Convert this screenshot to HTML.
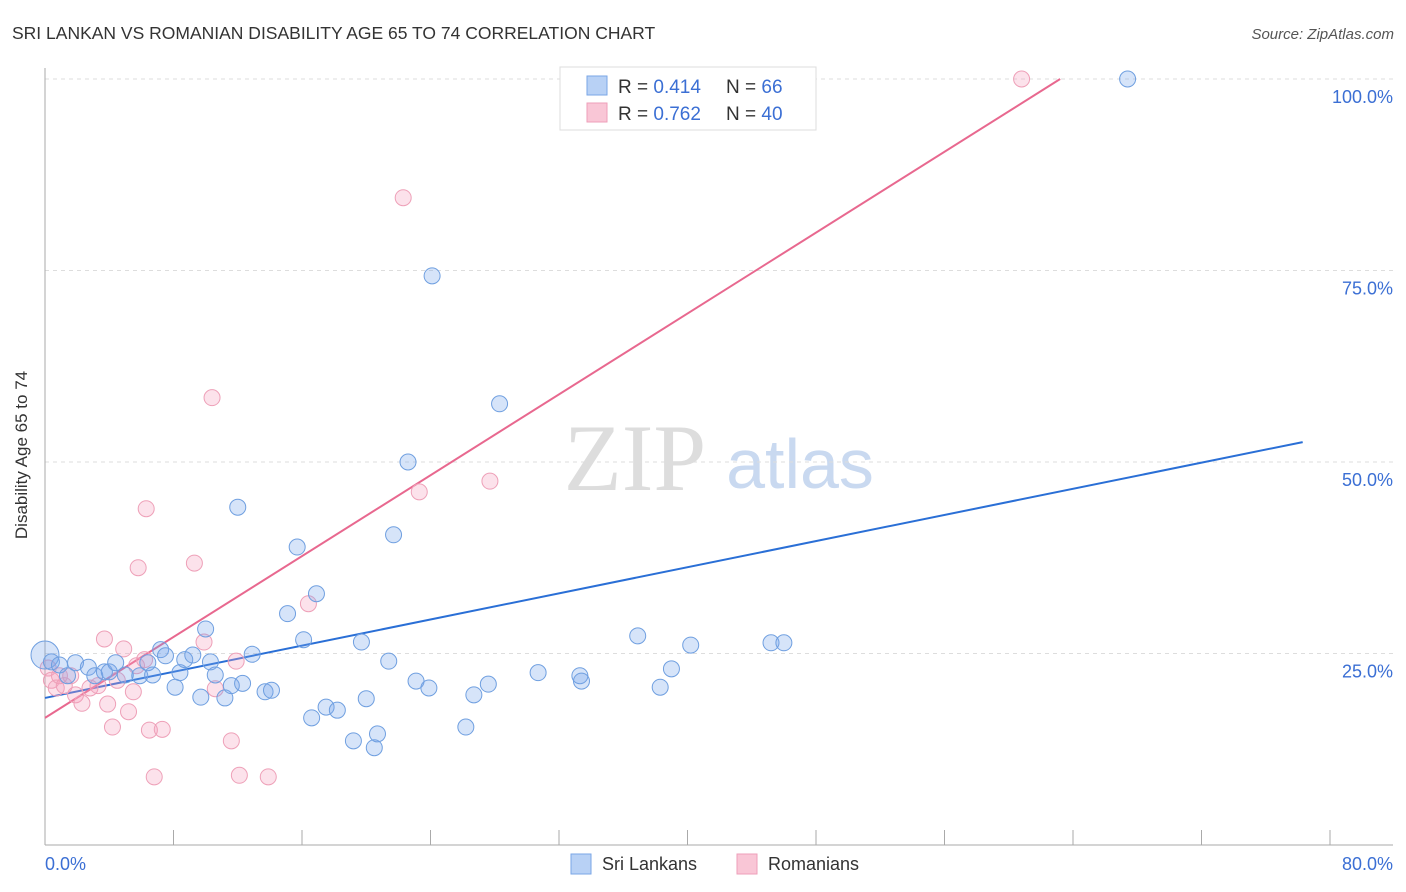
<!DOCTYPE html>
<html><head><meta charset="utf-8"><style>
body{margin:0;background:#fff;font-family:"Liberation Sans",sans-serif;}
svg{display:block}
</style></head><body>
<svg id="chart" width="1406" height="892" xmlns="http://www.w3.org/2000/svg">
<text x="12" y="39" font-size="17.5" fill="#333">SRI LANKAN VS ROMANIAN DISABILITY AGE 65 TO 74 CORRELATION CHART</text>
<text x="1394" y="39" font-size="15" fill="#555" font-style="italic" text-anchor="end">Source: ZipAtlas.com</text>
<g>
<text x="635" y="490" font-size="95" fill="#ddd" font-family="Liberation Serif,serif" text-anchor="middle">ZIP</text>
<text x="800" y="488" font-size="70" fill="#c9d9f0" text-anchor="middle">atlas</text>
</g>
<g id="grid"></g>
<g id="axes"></g>
<g id="trends"></g>
<g id="points"></g>
<text x="27" y="455" font-size="17" fill="#333" text-anchor="middle" transform="rotate(-90 27 455)">Disability Age 65 to 74</text>
<g>
<rect x="560" y="67" width="256" height="63" fill="#fff" stroke="#ddd"/>
<rect x="587" y="76" width="20" height="19" fill="#b8d1f5" stroke="#7aa6e6"/>
<rect x="587" y="103" width="20" height="19" fill="#f9c6d6" stroke="#ee9fb9"/>
<text x="618" y="93" font-size="19" fill="#333">R = <tspan fill="#3b6fd4">0.414</tspan></text>
<text x="726" y="93" font-size="19" fill="#333">N = <tspan fill="#3b6fd4"> 66</tspan></text>
<text x="618" y="120" font-size="19" fill="#333">R = <tspan fill="#3b6fd4">0.762</tspan></text>
<text x="726" y="120" font-size="19" fill="#333">N = <tspan fill="#3b6fd4">40</tspan></text>
</g>
<g>
<rect x="571" y="854" width="20" height="20" fill="#b8d1f5" stroke="#7aa6e6"/>
<text x="602" y="870" font-size="18" fill="#333">Sri Lankans</text>
<rect x="737" y="854" width="20" height="20" fill="#f9c6d6" stroke="#ee9fb9"/>
<text x="768" y="870" font-size="18" fill="#333">Romanians</text>
</g>
</svg>
<script>
const blueX=[0.0,0.4,0.9,1.4,1.9,2.7,3.1,3.7,4.0,4.4,5.0,5.9,6.4,6.7,7.2,7.5,8.1,8.4,8.7,9.2,9.7,10.0,10.3,10.6,11.2,11.6,12.0,12.3,12.9,13.7,14.1,15.1,15.7,16.1,16.6,16.9,17.5,18.2,19.2,19.7,20.0,20.5,20.7,21.4,21.7,22.6,23.1,23.9,24.1,26.2,26.7,27.6,28.3,30.7,33.3,33.4,36.9,38.3,39.0,40.2,45.2,46.0,67.4];
const blueY=[24.8,23.9,23.5,22.1,23.8,23.2,22.1,22.6,22.6,23.8,22.2,22.1,23.8,22.2,25.5,24.7,20.6,22.5,24.2,24.8,19.3,28.2,23.9,22.2,19.2,20.8,44.1,21.1,24.9,20.0,20.2,30.2,38.9,26.8,16.6,32.8,18.0,17.6,13.6,26.5,19.1,12.7,14.5,24.0,40.5,50.0,21.4,20.5,74.3,15.4,19.6,21.0,57.6,22.5,22.1,21.4,27.3,20.6,23.0,26.1,26.4,26.4,100.0];
const pinkX=[0.2,0.4,0.7,0.9,1.2,1.6,1.9,2.3,2.8,3.3,3.7,3.9,4.2,4.5,4.9,5.2,5.5,5.7,5.8,6.2,6.3,6.5,6.8,7.3,9.3,9.9,10.4,10.6,11.6,11.9,12.1,13.9,16.4,22.3,23.3,27.7,60.8];
const pinkY=[23.1,21.5,20.5,22.1,20.8,22.1,19.6,18.5,20.5,20.8,26.9,18.4,15.4,21.5,25.6,17.4,20.0,23.4,36.2,24.2,43.9,15.0,8.9,15.1,36.8,26.5,58.4,20.4,13.6,24.0,9.1,8.9,31.5,84.5,46.1,47.5,100.0];
const blueTrendX=[0,78.3], blueTrendY=[19.2,52.6];
const pinkTrendX=[0,63.2], pinkTrendY=[16.6,100];
const yTicks=[25,50,75,100];
const yTickLabels=["25.0%","50.0%","75.0%","100.0%"];
const xTicks=[0,8,16,24,32,40,48,56,64,72,80];

const NS="http://www.w3.org/2000/svg";
const sx=v=>45+v*16.0625;
const sy=v=>845-v*7.66;
function mk(tag,attrs,parent){const e=document.createElementNS(NS,tag);for(const k in attrs)e.setAttribute(k,attrs[k]);parent.appendChild(e);return e;}
const grid=document.getElementById('grid'),axes=document.getElementById('axes'),trends=document.getElementById('trends'),pts=document.getElementById('points');
yTicks.forEach((t,i)=>{
  const l=mk('line',{x1:45,x2:1393,y1:sy(t),y2:sy(t),stroke:'#ddd','stroke-dasharray':'4,4'},grid);
  
  
  const tx=mk('text',{x:1393,y:sy(t)+24,'font-size':18,fill:'#3b6fd4','text-anchor':'end'},axes);
  tx.textContent=yTickLabels[i];
  
  
});
const ya=mk('line',{x1:45,x2:45,y1:68,y2:845,stroke:'#aaa'},axes);


const xa=mk('line',{x1:45,x2:1393,y1:845,y2:845,stroke:'#aaa'},axes);


xTicks.forEach(t=>{
  const l=mk('line',{x1:sx(t),x2:sx(t),y1:830,y2:845,stroke:'#aaa'},axes);
  
  
});
[[0,"0.0%",'start',45],[80,"80.0%",'end',1393]].forEach(a=>{
  const tx=mk('text',{x:a[3],y:870,'font-size':18,fill:'#3b6fd4','text-anchor':a[2]},axes);
  tx.textContent=a[1];
  
  
});
const bt=mk('line',{x1:sx(blueTrendX[0]),y1:sy(blueTrendY[0]),x2:sx(blueTrendX[1]),y2:sy(blueTrendY[1]),stroke:'#2a6fd6','stroke-width':2},trends);


const pt=mk('line',{x1:sx(pinkTrendX[0]),y1:sy(pinkTrendY[0]),x2:sx(pinkTrendX[1]),y2:sy(pinkTrendY[1]),stroke:'#e8688f','stroke-width':2},trends);


pinkX.forEach((x,i)=>{
  const c=mk('circle',{cx:sx(x),cy:sy(pinkY[i]),r:8,fill:'rgba(244,160,188,0.3)',stroke:'#eea0b8','stroke-width':1},pts);
  
  
});
blueX.forEach((x,i)=>{
  const c=mk('circle',{cx:sx(x),cy:sy(blueY[i]),r:i===0?14:8,fill:'rgba(120,165,235,0.3)',stroke:'#6f9fe0','stroke-width':1},pts);
  
  
});
</script>
</body></html>
